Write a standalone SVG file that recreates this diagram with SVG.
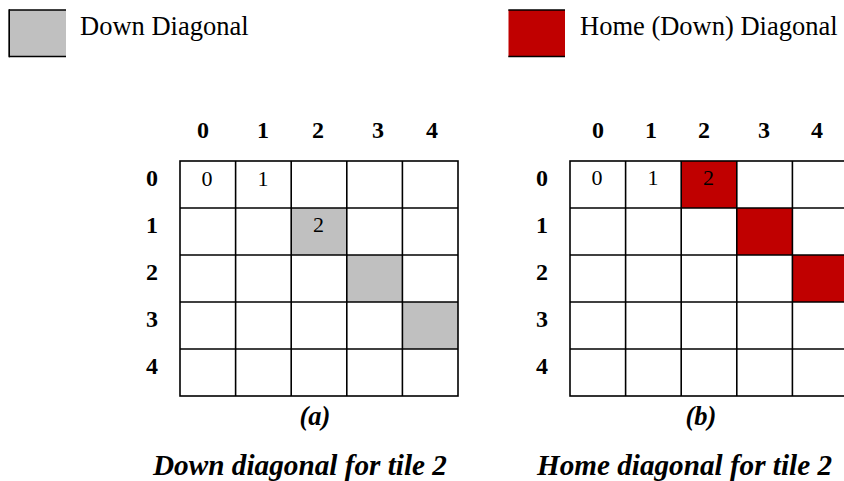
<svg xmlns="http://www.w3.org/2000/svg" width="844" height="481" viewBox="0 0 844 481">
<style>
  .lg { font-family: "Liberation Serif", "Times New Roman", serif; font-size: 26.5px; fill: #000; }
  .hd { font-family: "Liberation Serif", "Times New Roman", serif; font-size: 24px; font-weight: bold; fill: #000; text-anchor: middle; }
  .num { font-family: "Liberation Serif", "Times New Roman", serif; font-size: 22px; fill: #000; text-anchor: middle; }
  .cap { font-family: "Liberation Serif", "Times New Roman", serif; font-size: 26.5px; font-weight: bold; font-style: italic; fill: #000; text-anchor: middle; }
  .ttl { font-family: "Liberation Serif", "Times New Roman", serif; font-size: 29px; font-weight: bold; font-style: italic; fill: #000; }
  .grid { stroke: #000; stroke-width: 1.6; fill: none; }
  .gray { fill: #c0c0c0; }
  .red { fill: #c00000; }
</style>
<rect width="844" height="481" fill="#fff"/>

<g id="legend-down">
  <rect class="gray" x="8.5" y="10" width="57.5" height="46.5"/>
  <line x1="9" y1="10" x2="66" y2="10" stroke="#000" stroke-width="1.5"/>
  <line x1="9" y1="56.5" x2="66" y2="56.5" stroke="#000" stroke-width="1.5"/>
  <line x1="9.2" y1="9.3" x2="9.2" y2="57.2" stroke="#000" stroke-width="1.6"/>
  <text class="lg" x="80" y="35">Down Diagonal</text>
</g>
<g id="legend-home">
  <rect class="red" x="508.5" y="10" width="56.5" height="46.5"/>
  <line x1="508.3" y1="10" x2="565" y2="10" stroke="#000" stroke-width="1.5"/>
  <line x1="508.3" y1="56.5" x2="565" y2="56.5" stroke="#000" stroke-width="1.5"/>
  <text class="lg" x="580" y="35">Home (Down) Diagonal</text>
</g>

<g id="grid-a">
  <rect class="gray" x="291.2" y="208" width="55.6" height="47"/>
  <rect class="gray" x="346.8" y="255" width="55.6" height="47"/>
  <rect class="gray" x="402.4" y="302" width="55.6" height="47"/>
  <g class="grid">
    <rect x="180" y="161" width="278" height="235"/>
    <line x1="235.6" y1="161" x2="235.6" y2="396"/>
    <line x1="291.2" y1="161" x2="291.2" y2="396"/>
    <line x1="346.8" y1="161" x2="346.8" y2="396"/>
    <line x1="402.4" y1="161" x2="402.4" y2="396"/>
    <line x1="180" y1="208" x2="458" y2="208"/>
    <line x1="180" y1="255" x2="458" y2="255"/>
    <line x1="180" y1="302" x2="458" y2="302"/>
    <line x1="180" y1="349" x2="458" y2="349"/>
  </g>
  <text class="hd" x="203" y="138">0</text>
  <text class="hd" x="263" y="138">1</text>
  <text class="hd" x="318" y="138">2</text>
  <text class="hd" x="378" y="138">3</text>
  <text class="hd" x="432" y="138">4</text>
  <text class="hd" x="152" y="186">0</text>
  <text class="hd" x="152" y="233">1</text>
  <text class="hd" x="152" y="280">2</text>
  <text class="hd" x="152" y="327">3</text>
  <text class="hd" x="152" y="374">4</text>
  <text class="num" x="207" y="186">0</text>
  <text class="num" x="263" y="186">1</text>
  <text class="num" x="318.5" y="232">2</text>
  <text class="cap" x="315" y="425">(a)</text>
</g>

<g id="grid-b">
  <rect class="red" x="681.2" y="161" width="55.6" height="47"/>
  <rect class="red" x="736.8" y="208" width="55.6" height="47"/>
  <rect class="red" x="792.4" y="255" width="55.6" height="47"/>
  <g class="grid">
    <rect x="570" y="161" width="278" height="235"/>
    <line x1="625.6" y1="161" x2="625.6" y2="396"/>
    <line x1="681.2" y1="161" x2="681.2" y2="396"/>
    <line x1="736.8" y1="161" x2="736.8" y2="396"/>
    <line x1="792.4" y1="161" x2="792.4" y2="396"/>
    <line x1="570" y1="208" x2="848" y2="208"/>
    <line x1="570" y1="255" x2="848" y2="255"/>
    <line x1="570" y1="302" x2="848" y2="302"/>
    <line x1="570" y1="349" x2="848" y2="349"/>
  </g>
  <text class="hd" x="598" y="138">0</text>
  <text class="hd" x="651" y="138">1</text>
  <text class="hd" x="704" y="138">2</text>
  <text class="hd" x="764" y="138">3</text>
  <text class="hd" x="817" y="138">4</text>
  <text class="hd" x="542" y="186">0</text>
  <text class="hd" x="542" y="233">1</text>
  <text class="hd" x="542" y="280">2</text>
  <text class="hd" x="542" y="327">3</text>
  <text class="hd" x="542" y="374">4</text>
  <text class="num" x="597" y="185">0</text>
  <text class="num" x="653" y="185">1</text>
  <text class="num" x="708.5" y="185">2</text>
  <text class="cap" x="701" y="425">(b)</text>
</g>

<g id="titles">
  <text class="ttl" x="153" y="475" textLength="294" lengthAdjust="spacingAndGlyphs">Down diagonal for tile 2</text>
  <text class="ttl" x="537" y="475" textLength="295" lengthAdjust="spacingAndGlyphs">Home diagonal for tile 2</text>
</g>
</svg>
